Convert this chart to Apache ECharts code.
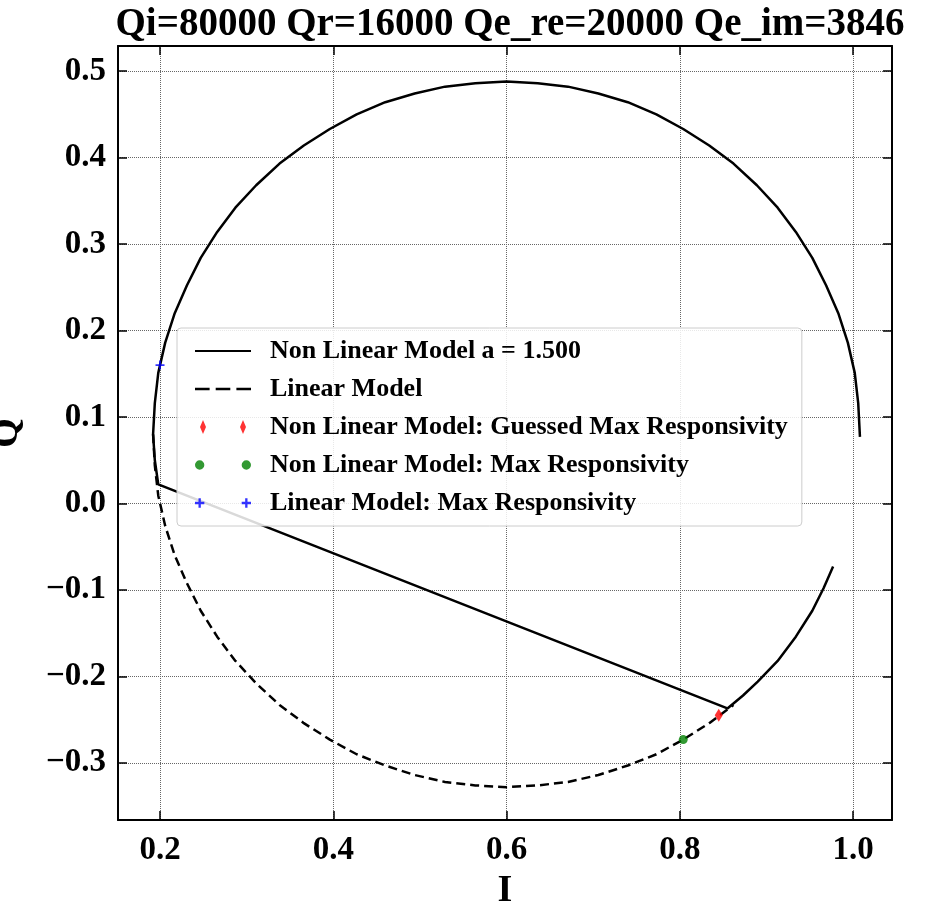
<!DOCTYPE html>
<html lang="en">
<head>
<meta charset="UTF-8">
<title>Qi=80000 Qr=16000</title>
<script src="https://cdn.jsdelivr.net/npm/echarts@6.0.0/dist/echarts.min.js"></script>
<style>
    html, body { margin: 0; padding: 0; background: #fff; }
    #chart { width: 935px; height: 907px; }
</style>
</head>
<body>
<div id="chart"></div>
<script>
    // points, [I, Q]
    const nonLinear = [
        [1.008, 0.077], [1.006, 0.116], [1.002, 0.151], [0.994, 0.186], [0.983, 0.220],
        [0.969, 0.252], [0.953, 0.284], [0.934, 0.314], [0.913, 0.342], [0.889, 0.368],
        [0.862, 0.393], [0.834, 0.414], [0.804, 0.433], [0.773, 0.450], [0.740, 0.464],
        [0.706, 0.474], [0.671, 0.482], [0.636, 0.486], [0.600, 0.488], [0.564, 0.486],
        [0.529, 0.482], [0.494, 0.474], [0.460, 0.464], [0.427, 0.450], [0.396, 0.433],
        [0.366, 0.414], [0.338, 0.393], [0.311, 0.368], [0.287, 0.342], [0.266, 0.314],
        [0.247, 0.284], [0.231, 0.252], [0.217, 0.220], [0.206, 0.186], [0.198, 0.151],
        [0.194, 0.116], [0.192, 0.080], [0.194, 0.050], [0.198, 0.022],
        [0.855, -0.237], [0.873, -0.222], [0.890, -0.206], [0.913, -0.182], [0.934, -0.154],
        [0.953, -0.124], [0.966, -0.098], [0.977, -0.073]
    ];
    const linear = [
        [0.192, 0.080], [0.194, 0.044], [0.198, 0.009], [0.206, -0.026], [0.217, -0.060],
        [0.231, -0.092], [0.247, -0.124], [0.266, -0.154], [0.287, -0.182], [0.311, -0.208],
        [0.338, -0.233], [0.366, -0.254], [0.396, -0.273], [0.427, -0.290], [0.460, -0.303],
        [0.494, -0.314], [0.529, -0.322], [0.564, -0.326], [0.600, -0.328], [0.636, -0.326],
        [0.671, -0.322], [0.706, -0.314], [0.740, -0.303], [0.773, -0.290], [0.804, -0.273],
        [0.834, -0.254], [0.862, -0.233]
    ];
    const guessedMax = [[0.845, -0.245]];
    const nonLinearMax = [[0.804, -0.273]];
    const linearMax = [[0.200, 0.160]];
    const xTicks = [0.2, 0.4, 0.6, 0.8, 1.0];
    const yTicks = [-0.3, -0.2, -0.1, 0, 0.1, 0.2, 0.3, 0.4, 0.5];

    const font = '"Liberation Serif", "Times New Roman", serif';
    const fmt = v => v.toFixed(1).replace('-', '\u2212');
    const tick = vals => ({ inside: true, length: 9, customValues: vals, lineStyle: { color: '#000', width: 1.5 } });
    const axisLine = { onZero: false, lineStyle: { color: '#000', width: 2 } };
    const labelStyle = { fontFamily: font, fontSize: 33, fontWeight: 'bold', color: '#000' };
    const nameStyle = { fontFamily: font, fontSize: 38, fontWeight: 'bold', color: '#000' };
    const grid = { show: true, lineStyle: { color: '#666', type: 'dotted', width: 1 } };

    const chart = echarts.init(document.getElementById('chart'));
    chart.setOption({
        animation: false,
        textStyle: { fontFamily: font },
        title: {
            text: 'Qi=80000 Qr=16000 Qe_re=20000 Qe_im=3846',
            left: 505, top: 0, textAlign: 'center',
            textStyle: { fontFamily: font, fontSize: 39, fontWeight: 'bold', color: '#000' }
        },
        grid: { left: 118, right: 43, top: 46, bottom: 87, containLabel: false, outerBoundsMode: 'none' },
        xAxis: [
            { type: 'value', min: 0.1515, max: 1.045, axisLine: axisLine, axisTick: tick(xTicks), splitLine: grid,
              name: 'I', nameLocation: 'middle', nameGap: 50, nameTextStyle: nameStyle,
              axisLabel: Object.assign({ formatter: fmt, margin: 14, customValues: xTicks }, labelStyle) },
            { type: 'value', position: 'top', min: 0.1515, max: 1.045, axisLine: axisLine,
              axisTick: tick(xTicks), splitLine: { show: false }, axisLabel: { show: false } }
        ],
        yAxis: [
            { type: 'value', min: -0.366, max: 0.529, axisLine: axisLine, axisTick: tick(yTicks), splitLine: grid,
              name: 'Q', nameLocation: 'middle', nameGap: 92, nameTextStyle: nameStyle,
              axisLabel: Object.assign({ formatter: fmt, margin: 12, customValues: yTicks }, labelStyle) },
            { type: 'value', position: 'right', min: -0.366, max: 0.529, axisLine: axisLine,
              axisTick: tick(yTicks), splitLine: { show: false }, axisLabel: { show: false } }
        ],
        legend: {
            left: 177, top: 328, width: 657,
            orient: 'vertical', itemGap: 12, padding: [10, 14, 10, 18],
            backgroundColor: 'rgba(255,255,255,0.85)', borderColor: '#ccc', borderWidth: 1, borderRadius: 4,
            itemWidth: 56, itemHeight: 14,
            textStyle: { fontFamily: font, fontSize: 26, fontWeight: 'bold', color: '#000', padding: [0, 0, 0, 14] },
            data: [
                { name: 'Non Linear Model a = 1.500', icon: 'path://M0,6 L56,6 L56,8 L0,8 Z' },
                { name: 'Linear Model', icon: 'path://M0,6 L12,6 L12,8 L0,8 Z M17,6 L29,6 L29,8 L17,8 Z M34,6 L46,6 L46,8 L34,8 Z' },
                { name: 'Non Linear Model: Guessed Max Responsivity', icon: 'path://M8,0 L11,7 L8,14 L5,7 Z M48,0 L51,7 L48,14 L45,7 Z' },
                { name: 'Non Linear Model: Max Responsivity', icon: 'path://M8,3 A4,4 0 1 1 7.99,3 Z M48,3 A4,4 0 1 1 47.99,3 Z' },
                { name: 'Linear Model: Max Responsivity', icon: 'path://M4,6 L12,6 L12,8 L4,8 Z M7,3 L9,3 L9,11 L7,11 Z M44,6 L52,6 L52,8 L44,8 Z M47,3 L49,3 L49,11 L47,11 Z' }
            ]
        },
        series: [
            { name: 'Non Linear Model a = 1.500', type: 'line', data: nonLinear, showSymbol: false,
              itemStyle: { color: '#000' }, lineStyle: { color: '#000', width: 2.5 }, z: 3 },
            { name: 'Linear Model', type: 'line', data: linear, showSymbol: false,
              itemStyle: { color: '#000' }, lineStyle: { color: '#000', width: 2.5, type: [9, 5] }, z: 2 },
            { name: 'Non Linear Model: Guessed Max Responsivity', type: 'scatter', data: guessedMax,
              symbol: 'diamond', symbolSize: [8, 13], itemStyle: { color: '#ff0000' }, z: 4 },
            { name: 'Non Linear Model: Max Responsivity', type: 'scatter', data: nonLinearMax,
              symbol: 'circle', symbolSize: 9, itemStyle: { color: '#008000' }, z: 4 },
            { name: 'Linear Model: Max Responsivity', type: 'scatter', data: linearMax,
              symbol: 'path://M4,0 L6,0 L6,4 L10,4 L10,6 L6,6 L6,10 L4,10 L4,6 L0,6 L0,4 L4,4 Z',
              symbolSize: 9, itemStyle: { color: '#0000ff' }, z: 4 }
        ]
    });
</script>
</body>
</html>
